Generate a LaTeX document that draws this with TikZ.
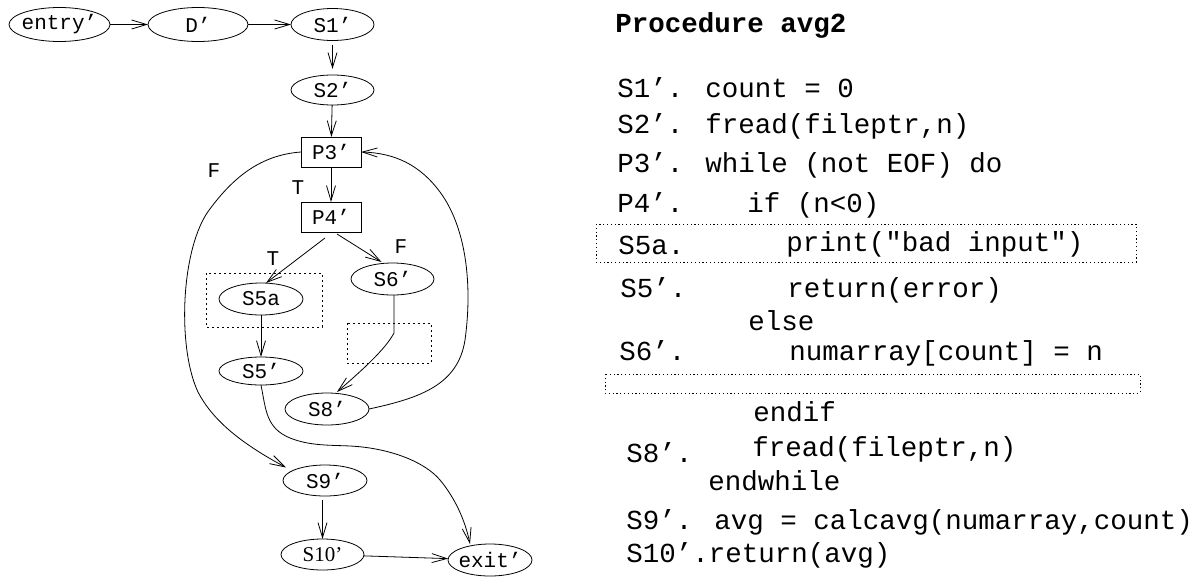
\documentclass[tikz,border=0pt]{standalone}
\usepackage{fontspec}
\usetikzlibrary{arrows.meta,shapes.geometric,calc}
\newfontfamily\codefont{Liberation Mono}
\newfontfamily\romanfont{Liberation Serif}
\newcommand\graphfont{\fontsize{21pt}{24pt}\codefont}
\newcommand\listfont{\fontsize{27.5pt}{30pt}\codefont}

\tikzset{
  gnode/.style={draw, ellipse, inner sep=-12pt, outer sep=0pt, font=\graphfont},
  gbox/.style={draw, rectangle, inner sep=0pt, outer sep=0pt, font=\graphfont,
               minimum width=60pt, minimum height=30pt},
  flow/.style={->},
  branch/.style={font=\graphfont, inner sep=0pt},
  code/.style={anchor=base west, inner sep=0pt, font=\listfont},
  ldot/.style={dash pattern=on 2pt off 3pt, line width=0.7pt},
  rdot/.style={dash pattern=on 1.2pt off 2.6pt, line width=0.7pt},
}

\begin{document}
\begin{tikzpicture}[x=1pt, y=-1pt, line width=0.8pt,
  >={Straight Barb[length=15pt,width=9pt]}]
\useasboundingbox (0,0) rectangle (1193,576);

% ---------- flow graph ----------
\node[gnode, minimum width=101pt, minimum height=34pt] (entry) at (59.5,24.5) {entry’};
\node[gnode, minimum width=100pt, minimum height=34pt] (D)     at (198,24.5) {D’};
\node[gnode, minimum width=83pt, minimum height=32pt]  (S1)    at (332.5,24.5) {S1’};
\node[gnode, minimum width=83pt, minimum height=30pt]  (S2)    at (332.5,90) {S2’};
\node[gbox] (P3) at (331,152) {P3’};
\node[gbox] (P4) at (331,217) {P4’};
\node[gnode, minimum width=84pt, minimum height=32pt]  (S5a)   at (261,299) {S5a};
\node[gnode, minimum width=83pt, minimum height=32pt]  (S6)    at (392.5,279) {S6’};
\node[gnode, minimum width=84pt, minimum height=28pt]  (S5)    at (261,371) {S5’};
\node[gnode, minimum width=84pt, minimum height=32pt]  (S8)    at (327,409) {S8’};
\node[gnode, minimum width=84pt, minimum height=31pt]  (S9)    at (325,480.5) {S9’};
\node[gnode, minimum width=83pt, minimum height=31pt,
      font=\fontsize{21pt}{24pt}\romanfont] (S10) at (322.5,554.5) {S10’};
\node[gnode, minimum width=84pt, minimum height=32pt]  (exit)  at (490,560) {exit’};

% dotted regions in the graph
\draw[ldot] (206,273) rectangle (322,327);
\draw[ldot] (347,323) rectangle (431,363);

% branch labels
\node[branch] (lF1) at (214,171) {F};
\node[branch] (lT1) at (298,188) {T};
\node[branch] (lT2) at (273,259) {T};
\node[branch] (lF2) at (401,247) {F};

% straight edges
\draw[flow] (entry) -- (D);
\draw[flow] (D) -- (S1);
\draw[flow, shorten <=4pt, shorten >=6pt] (S1) -- (S2);
\draw[flow] (S2) -- (P3);
\draw[flow] (P3) -- (P4);
\draw[flow] ($(P4.south)+(-6,6)$) -- ($(S5a.north)+(5,0)$);
\draw[flow] ($(P4.south)+(6,2)$) -- ($(S6.north)+(-11,-1)$);
\draw[flow] (S5a) -- (S5);
\draw[flow, shorten <=4pt] (S9.south -| S10.north) -- (S10.north);
\draw[flow] (S10) -- (exit);

% curved edges
\coordinate (s6bend) at (394,333);
\draw[flow] (S6.south -| s6bend) -- (s6bend)
  .. controls (385,350) and (360,372) .. ($(S8.north)+(10,-1)$);

\draw[flow] (S8.east)
  .. controls (420,398) and (458,385) .. (465,340)
  .. controls (472,290) and (468,230) .. (440,192)
  .. controls (420,165) and (395,153) .. (P3.east);

\draw[flow] (P3.west)
  .. controls (260,155) and (232,178) .. (207,213)
  .. controls (180,255) and (178,350) .. (198,392)
  .. controls (215,425) and (250,448) .. ($(S9)+(-39,-13)$);

\draw[flow] (S5.south)
  .. controls (266,410) and (266,428) .. (290,438)
  .. controls (310,446) and (330,445) .. (350,446)
  .. controls (390,448) and (425,462) .. (440,480)
  .. controls (455,498) and (465,520) .. ($(exit)+(-20,-16)$);

% ---------- procedure listing ----------
\node[code, font=\listfont\bfseries] (title) at (615,32) {Procedure avg2};

\node[code] (c1)  at (617,97)  {S1’. count = 0};
\node[code] (c2)  at (617,133) {S2’. fread(fileptr,n)};
\node[code] (c3)  at (617,172) {P3’. while (not EOF) do};
\node[code] (c4a) at (617,212) {P4’.};
\node[code] (c4b) at (747,212) {if (n<0)};
\node[code] (c5a) at (618,254) {S5a.};
\node[code] (c5b) at (786,251) {print("bad input")};
\node[code] (c6a) at (620,297) {S5’.};
\node[code] (c6b) at (787,297) {return(error)};
\node[code] (c7)  at (748,330) {else};
\node[code] (c8a) at (619,360) {S6’.};
\node[code] (c8b) at (789,360) {numarray[count] = n};
\node[code] (c9)  at (753,421) {endif};
\node[code] (c10a) at (626,462) {S8’.};
\node[code] (c10b) at (752,456) {fread(fileptr,n)};
\node[code] (c11) at (708,490) {endwhile};
\node[code] (c12) at (626,529) {S9’. avg = calcavg(numarray,count)};
\node[code] (c13) at (626,562) {S10’.return(avg)};

\draw[rdot] (596,224) rectangle (1136,262);
\draw[rdot] (605,374) rectangle (1140,393);
\end{tikzpicture}
\end{document}
